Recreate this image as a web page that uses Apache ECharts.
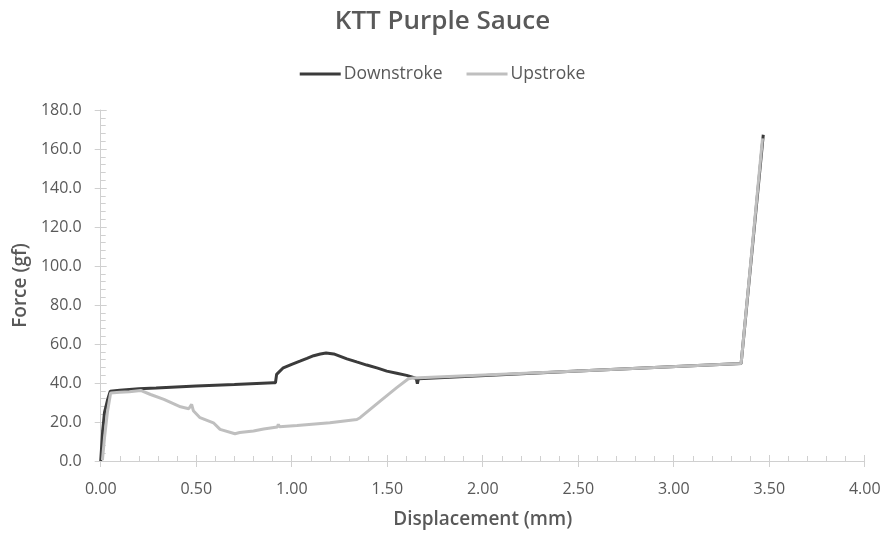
<!DOCTYPE html>
<html>
<head>
<meta charset="utf-8">
<script src="https://cdn.jsdelivr.net/npm/echarts@6/dist/echarts.min.js"></script>
<style>html,body{margin:0;padding:0;background:#fff}#c{width:885px;height:534px}</style>
</head>
<body>
<div id="c"></div>
<script>
const titleText = 'KTT Purple Sauce';
const seriesNames = ['Downstroke', 'Upstroke'];
const xAxisName = 'Displacement (mm)';
const yAxisName = 'Force (gf)';

const downX = [0, 0.01, 0.02, 0.035, 0.05, 0.1, 0.2, 0.29, 0.3, 0.5, 0.7, 0.904, 0.915, 0.921, 0.93, 0.956, 1.0, 1.043, 1.08, 1.115, 1.15, 1.18, 1.22, 1.289, 1.34, 1.393, 1.45, 1.498, 1.55, 1.602, 1.637, 1.652, 1.658, 1.664, 2.5, 3.353, 3.469];
const downY = [0, 15, 25, 31, 35.8, 36.3, 37.0, 37.4, 38.2, 38.5, 39.2, 40.1, 40.1, 44.4, 44.8, 47.8, 49.6, 51.2, 52.6, 54.0, 54.9, 55.4, 54.9, 52.4, 50.8, 49.2, 47.6, 46.1, 45.0, 43.9, 42.8, 42.3, 39.6, 42.2, 46.1, 50.0, 167.3];

const upX = [0.009, 0.02, 0.035, 0.052, 0.1, 0.15, 0.209, 0.261, 0.331, 0.418, 0.461, 0.47, 0.476, 0.485, 0.52, 0.59, 0.625, 0.703, 0.728, 0.8, 0.853, 0.925, 0.93, 0.936, 1.028, 1.2, 1.341, 1.358, 1.463, 1.55, 1.611, 1.637, 2.5, 3.353, 3.465];
const upY = [0.5, 12, 25, 34.9, 35.2, 35.5, 36.2, 34.1, 31.6, 27.8, 26.8, 27.0, 29.0, 25.8, 22.2, 19.6, 16.2, 14.0, 14.6, 15.4, 16.4, 17.4, 18.8, 17.6, 18.2, 19.6, 21.3, 22.2, 30.7, 37.6, 42.2, 42.6, 46.1, 50.0, 165.5];

const xTickMin = 0, xTickMax = 4, xTickStep = 0.5;
const yTickMin = 0, yTickMax = 180, yTickStep = 20;

const FONT = '"Open Sans", "Noto Sans", sans-serif';
const TXT = '#595959';
const AX = '#d0d0d0';

function pairs(xs, ys) { return xs.map((x, i) => [x, ys[i]]); }

const chart = echarts.init(document.getElementById('c'), null, {renderer: 'canvas'});
chart.setOption({
  animation: false,
  backgroundColor: '#ffffff',
  textStyle: {fontFamily: FONT},
  title: {
    text: titleText, left: 'center', top: 4,
    textStyle: {fontFamily: FONT, fontSize: 26, fontWeight: 600, color: TXT}
  },
  legend: {
    top: 60, left: 'center',
    icon: 'rect', itemWidth: 41, itemHeight: 3, itemGap: 24,
    textStyle: {fontFamily: FONT, fontSize: 17.5, color: TXT, padding: [0, 0, 0, -2]},
    data: seriesNames
  },
  grid: {left: 100.7, right: 20.3, top: 110, bottom: 72.3, containLabel: false},
  xAxis: [{
    type: 'value', min: xTickMin, max: xTickMax, interval: xTickStep, position: 'bottom',
    name: xAxisName, nameLocation: 'middle', nameGap: 49,
    nameTextStyle: {fontFamily: FONT, fontSize: 19, fontWeight: 600, color: TXT},
    axisLine: {show: true, lineStyle: {color: AX, width: 1}},
    axisTick: {show: true, inside: true, length: 6, lineStyle: {color: AX}},
    minorTick: {show: true, splitNumber: 5, length: 5, lineStyle: {color: AX}},
    axisLabel: {fontFamily: FONT, fontSize: 16, color: TXT, margin: 20, formatter: v => v.toFixed(2)},
    splitLine: {show: false}
  }, {
    type: 'value', min: xTickMin, max: xTickMax, interval: xTickStep, position: 'bottom', offset: 0,
    axisLine: {show: false},
    axisTick: {show: true, inside: false, length: 6, lineStyle: {color: AX}},
    axisLabel: {show: false},
    splitLine: {show: false}
  }],
  yAxis: [{
    type: 'value', min: yTickMin, max: yTickMax, interval: yTickStep, position: 'left',
    name: yAxisName, nameLocation: 'middle', nameGap: 67,
    nameTextStyle: {fontFamily: FONT, fontSize: 19, fontWeight: 600, color: TXT},
    axisLine: {show: true, lineStyle: {color: AX, width: 1}},
    axisTick: {show: true, inside: true, length: 6, lineStyle: {color: AX}},
    minorTick: {show: true, splitNumber: 5, length: 5, lineStyle: {color: AX}},
    axisLabel: {fontFamily: FONT, fontSize: 16, color: TXT, margin: 19, formatter: v => v.toFixed(1)},
    splitLine: {show: false}
  }, {
    type: 'value', min: yTickMin, max: yTickMax, interval: yTickStep, position: 'left', offset: 0,
    axisLine: {show: false},
    axisTick: {show: true, inside: false, length: 6, lineStyle: {color: AX}},
    axisLabel: {show: false},
    splitLine: {show: false}
  }],
  series: [{
    name: seriesNames[0], type: 'line', xAxisIndex: 0, yAxisIndex: 0,
    data: pairs(downX, downY), showSymbol: false, symbol: 'none',
    lineStyle: {color: '#3b3b3b', width: 3}, itemStyle: {color: '#3b3b3b'}, z: 2
  }, {
    name: seriesNames[1], type: 'line', xAxisIndex: 0, yAxisIndex: 0,
    data: pairs(upX, upY), showSymbol: false, symbol: 'none',
    lineStyle: {color: '#bfbfbf', width: 3}, itemStyle: {color: '#bfbfbf'}, z: 3
  }]
});
</script>
</body>
</html>
